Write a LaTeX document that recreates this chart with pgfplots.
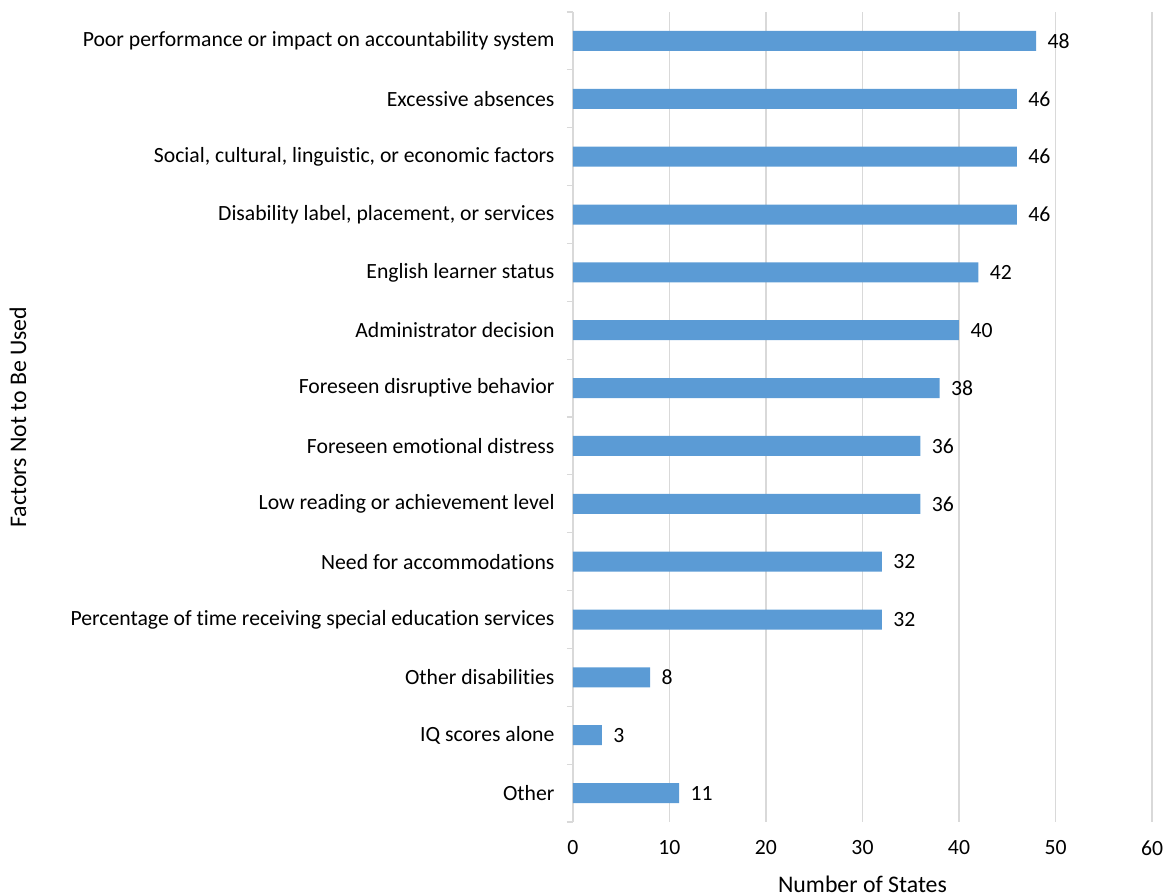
\documentclass[border=0pt]{standalone}
\usepackage{pgfplots}
\pgfplotsset{compat=1.18}
\usepackage{fontspec}
\setmainfont{Carlito}[Ligatures=NoCommon]
\definecolor{barblue}{HTML}{5B9BD5}
\definecolor{gridgray}{HTML}{D9D9D9}
\begin{document}
\begin{tikzpicture}[x=1pt,y=1pt,font=\fontsize{21.7pt}{26pt}\selectfont]
\useasboundingbox (-573,-73) rectangle (596,822);
\begin{axis}[
 at={(0,0)}, anchor=south west,
 scale only axis, width=579pt, height=810pt,
 xbar, bar width=20pt,
 xmin=0, xmax=60, xtick={0,10,...,60},
 ymin=-0.5, ymax=13.5, y dir=reverse,
 ytick={0,...,13},
 yticklabels={{Poor performance or impact on accountability system},{Excessive absences},{Social, cultural, linguistic, or economic factors},{Disability label, placement, or services},{English learner status},{Administrator decision},{Foreseen disruptive behavior},{Foreseen emotional distress},{Low reading or achievement level},{Need for accommodations},{Percentage of time receiving special education services},{Other disabilities},{IQ scores alone},{Other}},
 minor ytick={-0.5,0.5,...,13.5},
 major tick length=0pt, minor tick length=6pt, tick align=outside,
 minor y tick style={gridgray, line width=1.2pt},
 axis lines*=left, separate axis lines,
 x axis line style={draw=none},
 y axis line style={draw=gridgray, line width=1.2pt},
 xmajorgrids, major x grid style={gridgray, line width=1.2pt},
 /pgf/number format/assume math mode=true,
 yticklabel style={xshift=-15pt},
 xticklabel style={anchor=center, yshift=-26pt},
 xlabel={Number of States},
 ylabel={Factors Not to Be Used},
 every axis x label/.style={at={(axis description cs:0.5,0)}, anchor=center, yshift=-62pt, font=\fontsize{23.8pt}{28pt}\selectfont},
 every axis y label/.style={at={(axis description cs:0,0.5)}, rotate=90, anchor=center, yshift=555pt, font=\fontsize{23.8pt}{28pt}\selectfont},
]
\addplot[fill=barblue, draw=none, nodes near coords, nodes near coords style={anchor=west, xshift=8pt, text=black}] coordinates {
(48,0) (46,1) (46,2) (46,3) (42,4) (40,5) (38,6) (36,7) (36,8) (32,9) (32,10) (8,11) (3,12) (11,13)};
\end{axis}
\end{tikzpicture}
\end{document}
